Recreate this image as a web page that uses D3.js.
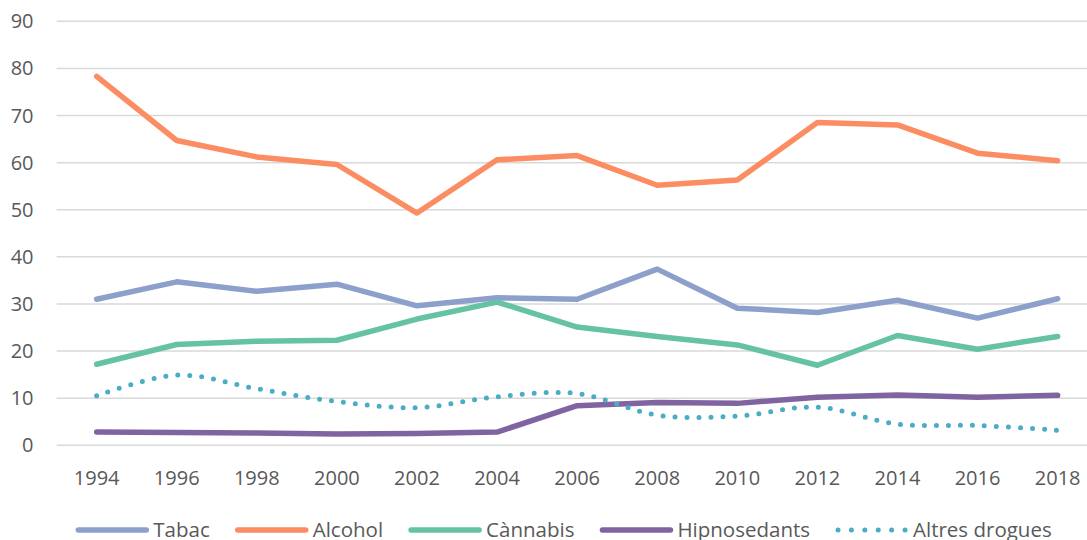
<!DOCTYPE html>
<html>
<head>
<meta charset="utf-8">
<script src="https://cdn.jsdelivr.net/npm/d3@7"></script>
<style>
  body { margin: 0; background: #fff; }
  text { font-family: "Open Sans", sans-serif; fill: #595959; }
</style>
</head>
<body>
<svg id="chart" width="1087" height="540"></svg>
<script>
// data
const years = ["1994","1996","1998","2000","2002","2004","2006","2008","2010","2012","2014","2016","2018"];
const tabac = [31.0, 34.7, 32.7, 34.2, 29.6, 31.3, 31.0, 37.4, 29.1, 28.2, 30.8, 27.0, 31.1];
const alcohol = [78.3, 64.7, 61.2, 59.6, 49.3, 60.6, 61.5, 55.2, 56.3, 68.5, 68.0, 62.0, 60.4];
const cannabis = [17.2, 21.4, 22.1, 22.3, 26.8, 30.4, 25.1, 23.1, 21.3, 17.0, 23.3, 20.4, 23.1];
const hipno = [2.8, 2.7, 2.6, 2.4, 2.5, 2.8, 8.4, 9.1, 8.9, 10.2, 10.7, 10.2, 10.6];
const altres = [10.5, 14.9, 12.0, 9.3, 8.0, 10.3, 11.0, 6.4, 6.2, 8.1, 4.5, 4.2, 3.2];
const yTicks = [0, 10, 20, 30, 40, 50, 60, 70, 80, 90];

const series = [
  {name: "Tabac", values: tabac, color: "#8da0cb", dotted: false},
  {name: "Alcohol", values: alcohol, color: "#fc8d62", dotted: false},
  {name: "Cànnabis", values: cannabis, color: "#66c2a5", dotted: false},
  {name: "Hipnosedants", values: hipno, color: "#8064a2", dotted: false},
  {name: "Altres drogues", values: altres, color: "#4bacc6", dotted: true}
];

const svg = d3.select('#chart');

const x = d3.scaleBand()
      .domain(years)
      .range([56.6, 1097.7]);
const y = d3.scaleLinear()
      .domain([0, 90])
      .range([445.3, 21.3]);

// gridlines
svg.append('g')
   .selectAll('line')
   .data(yTicks)
   .enter().append('line')
   .attr('x1', 56.6)
   .attr('x2', 1097.7)
   .attr('y1', d => y(d))
   .attr('y2', d => y(d))
   .attr('stroke', '#d9d9d9')
   .attr('stroke-width', 1.5);

// y labels
svg.append('g')
   .selectAll('text')
   .data(yTicks)
   .enter().append('text')
   .attr('x', 33.5)
   .attr('y', d => y(d))
   .attr('dy', '0.35em')
   .attr('text-anchor', 'end')
   .style('font-size', '20px')
   .text(d => d);

// x labels
svg.append('g')
   .selectAll('text')
   .data(years)
   .enter().append('text')
   .attr('x', d => x(d) + x.bandwidth() / 2)
   .attr('y', 478)
   .attr('dy', '0.35em')
   .attr('text-anchor', 'middle')
   .style('font-size', '20px')
   .text(d => d);

const line = d3.line()
      .x((d, i) => x(years[i]) + x.bandwidth() / 2)
      .y(d => y(d));
const smooth = d3.line()
      .x((d, i) => x(years[i]) + x.bandwidth() / 2)
      .y(d => y(d))
      .curve(d3.curveCardinal.tension(0));

svg.append('g')
   .selectAll('path')
   .data(series)
   .enter().append('path')
   .attr('d', s => s.dotted ? smooth(s.values) : line(s.values))
   .attr('fill', 'none')
   .attr('stroke', s => s.color)
   .attr('stroke-width', s => s.dotted ? 5 : 5.5)
   .attr('stroke-linecap', 'round')
   .attr('stroke-linejoin', 'round')
   .attr('stroke-dasharray', s => s.dotted ? '0 12' : null);

// legend
const legend = svg.append('g');
let cx = 0;
series.forEach(s => {
  const item = legend.append('g').attr('transform', 'translate(' + cx + ',0)');
  item.append('line')
      .attr('x1', 2).attr('x2', 70)
      .attr('y1', 0).attr('y2', 0)
      .attr('stroke', s.color)
      .attr('stroke-width', s.dotted ? 5 : 5.5)
      .attr('stroke-linecap', 'round')
      .attr('stroke-dasharray', s.dotted ? '0 13.4' : null);
  const t = item.append('text')
      .attr('x', 77)
      .attr('y', 0)
      .attr('dy', '0.35em')
      .style('font-size', '20.5px')
      .text(s.name);
  cx += 77 + t.node().getComputedTextLength() + 26;
});
const legendW = cx - 26;
legend.attr('transform', 'translate(' + (564 - legendW / 2) + ',530)');
</script>
</body>
</html>
